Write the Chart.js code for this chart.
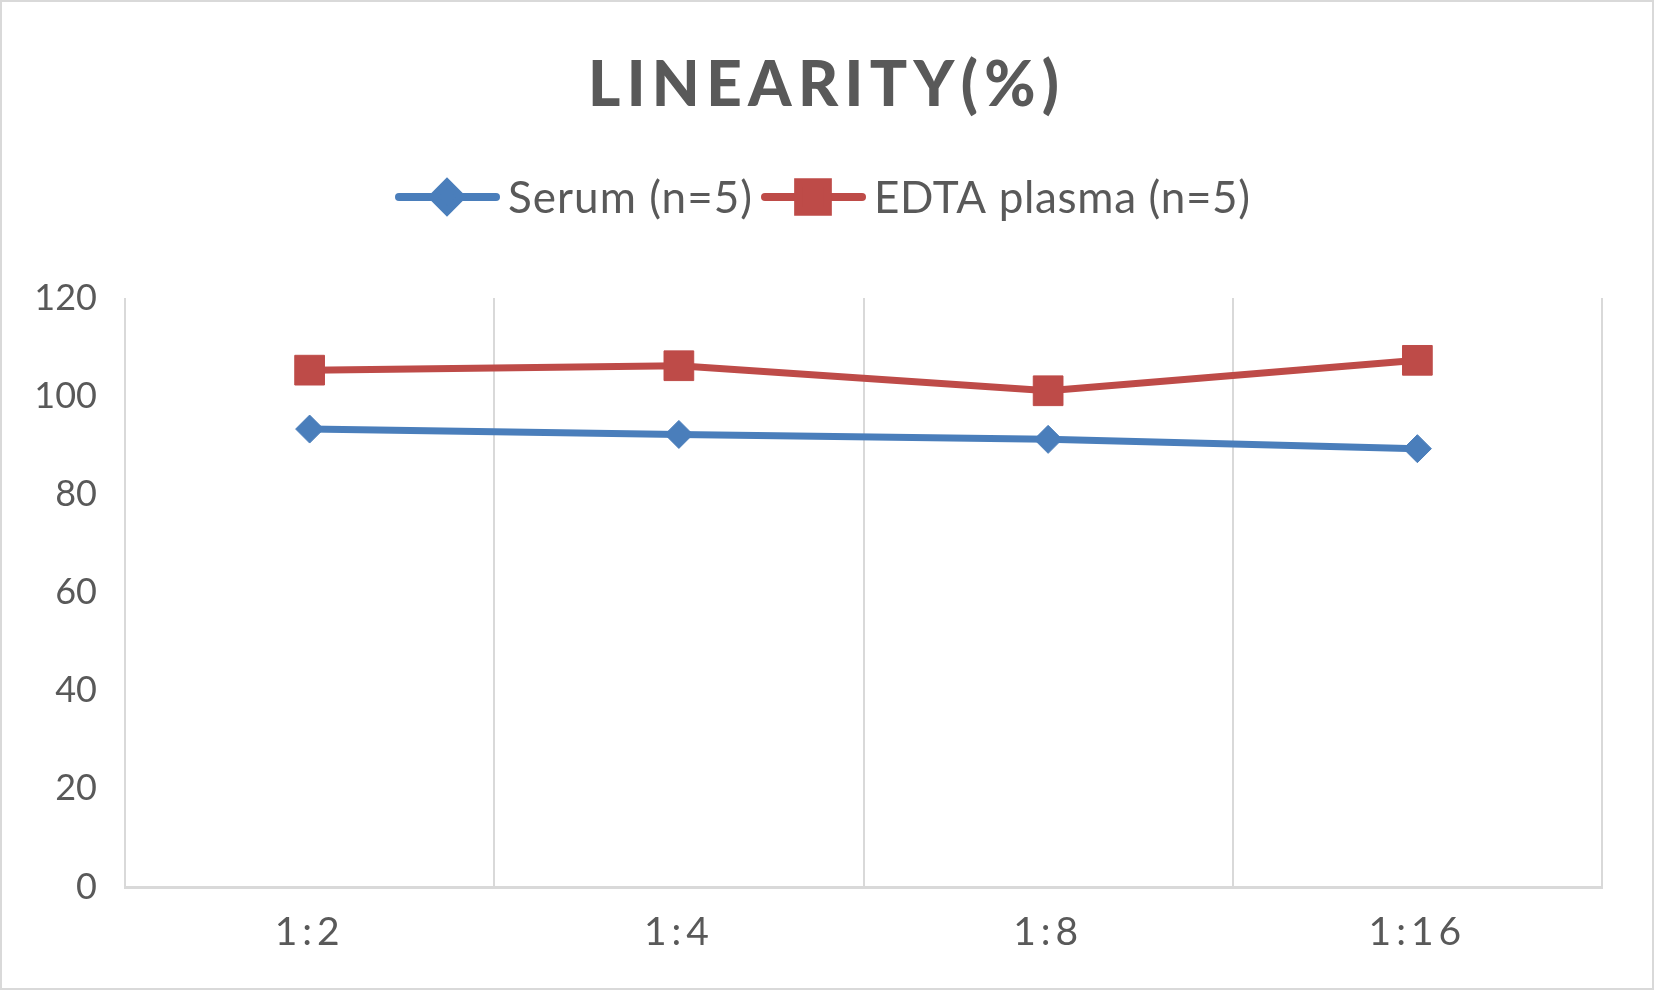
<!DOCTYPE html>
<html>
<head>
<meta charset="utf-8">
<title>Linearity (%)</title>
<script src="https://cdn.jsdelivr.net/npm/chart.js@4.4.1/dist/chart.umd.min.js"></script>
<style>
  html, body { margin: 0; padding: 0; background: #fff; }
  #wrap { width: 1654px; height: 994px; }
</style>
</head>
<body>
<div id="wrap"><canvas id="linearityChart" width="1654" height="994"></canvas></div>
<script>
// chart data
const categories = ["1:2", "1:4", "1:8", "1:16"];
const serumValues = [93.3, 92.2, 91.2, 89.3];
const edtaValues = [105.3, 106.2, 101.1, 107.3];
const seriesNames = ["Serum (n=5)", "EDTA plasma (n=5)"];
const yTicks = [0, 20, 40, 60, 80, 100, 120];
const chartTitle = "LINEARITY(%)";

const textColor = "#595959";
const gridColor = "#d9d9d9";
const fontFamily = "Lato, 'Open Sans', sans-serif";

// widths of the text runs in the original (excel spreads its glyphs out)
const titleWidth = 471;
const legendWidths = [244, 376];

function spreadText(ctx, text, x, y, width) {
    ctx.letterSpacing = "0px";
    const plain = ctx.measureText(text).width;
    const spacing = Math.max(0, (width - plain) / (text.length - 1));
    ctx.letterSpacing = spacing + "px";
    ctx.fillText(text, x, y);
    ctx.letterSpacing = "0px";
}

// title + legend drawn like the excel original (line with marker in the legend)
const headerPlugin = {
    id: "header",
    beforeDraw(chart) {
        const ctx = chart.ctx;
        ctx.save();
        ctx.fillStyle = "#fff";
        ctx.fillRect(0, 0, chart.width, chart.height);
        ctx.strokeStyle = gridColor;
        ctx.lineWidth = 2;
        ctx.strokeRect(1, 1, chart.width - 2, chart.height - 6);
        ctx.restore();
    },
    afterDatasetsDraw(chart) {
        // x tick labels sit on a later layer (z: 1); give them excel's spacing
        chart.ctx.letterSpacing = "5px";
    },
    afterDraw(chart) {
        const ctx = chart.ctx;
        ctx.letterSpacing = "0px";
        ctx.save();

        // title
        ctx.font = "900 62px " + fontFamily;
        ctx.fillStyle = textColor;
        ctx.textBaseline = "alphabetic";
        ctx.textAlign = "left";
        spreadText(ctx, chartTitle, 588, 106, titleWidth);

        // legend
        ctx.font = "44px " + fontFamily;
        ctx.textBaseline = "middle";
        let x = 399;
        const y = 197;
        chart.data.datasets.forEach(function (ds, i) {
            ctx.strokeStyle = ds.borderColor;
            ctx.lineWidth = 8;
            ctx.lineCap = "round";
            ctx.beginPath();
            ctx.moveTo(x, y);
            ctx.lineTo(x + 97, y);
            ctx.stroke();
            ctx.fillStyle = ds.pointBackgroundColor;
            ctx.strokeStyle = ds.pointBorderColor;
            Chart.helpers.drawPoint(ctx, {
                pointStyle: ds.pointStyle,
                radius: ds.pointRadius,
                borderWidth: 1,
                rotation: 0
            }, x + 48, y);
            ctx.fillStyle = textColor;
            spreadText(ctx, ds.label, x + 109, y + 2, legendWidths[i]);
            x += 109 + legendWidths[i] + 13;
        });
        ctx.restore();
    }
};

const canvas = document.getElementById("linearityChart");

new Chart(canvas, {
    type: "line",
    data: {
        labels: categories,
        datasets: [
            {
                label: seriesNames[0],
                data: serumValues,
                borderColor: "#4a7ebb",
                backgroundColor: "#4a7ebb",
                pointBackgroundColor: "#4a7ebb",
                pointBorderColor: "#4a7ebb",
                borderWidth: 7,
                pointStyle: "rectRot",
                pointRadius: 14,
                pointHoverRadius: 14,
                pointBorderWidth: 1,
                tension: 0
            },
            {
                label: seriesNames[1],
                data: edtaValues,
                borderColor: "#be4b48",
                backgroundColor: "#be4b48",
                pointBackgroundColor: "#be4b48",
                pointBorderColor: "#be4b48",
                borderWidth: 7,
                pointStyle: "rect",
                pointRadius: 21,
                pointHoverRadius: 21,
                pointBorderWidth: 1,
                tension: 0
            }
        ]
    },
    options: {
        responsive: false,
        animation: false,
        devicePixelRatio: 1,
        layout: {
            padding: { top: 298, right: 52, bottom: 0, left: 0 }
        },
        plugins: {
            legend: { display: false },
            title: { display: false },
            tooltip: { enabled: false }
        },
        scales: {
            x: {
                offset: true,
                grid: {
                    offset: true,
                    color: gridColor,
                    lineWidth: 2,
                    drawTicks: false
                },
                border: { color: gridColor, width: 3 },
                ticks: {
                    z: 1,
                    color: textColor,
                    padding: 22,
                    font: { family: fontFamily, size: 39 }
                },
                afterFit: function (scale) {
                    scale.height = 107;
                }
            },
            y: {
                min: 0,
                max: 120,
                afterBuildTicks: function (scale) {
                    scale.ticks = yTicks.map(function (v) { return { value: v }; });
                },
                grid: { display: false, drawTicks: false },
                border: { display: false },
                ticks: {
                    color: textColor,
                    padding: 28,
                    font: { family: fontFamily, size: 36 }
                },
                afterFit: function (scale) {
                    scale.width = 125;
                }
            }
        }
    },
    plugins: [headerPlugin]
});
</script>
</body>
</html>
